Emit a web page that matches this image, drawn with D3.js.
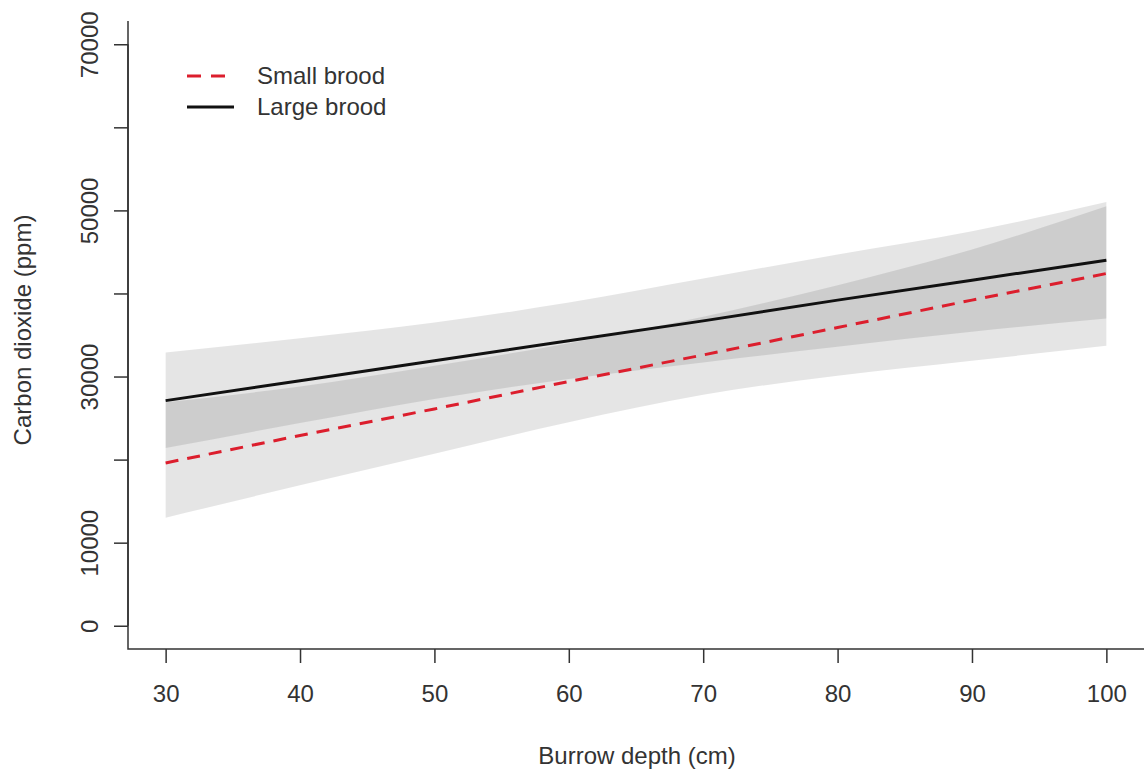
<!DOCTYPE html>
<html>
<head>
<meta charset="utf-8">
<script src="https://cdn.jsdelivr.net/npm/d3@7"></script>
<style>
  body { margin: 0; background: #fff; }
  svg text { font-family: "Liberation Sans", Arial, Helvetica, sans-serif; fill: #333; }
</style>
</head>
<body>
<div id="chart"></div>
<script>
// burrow depth (cm) at which the fitted values were read
const depth = [30, 40, 50, 60, 70, 80, 90, 100];

// fitted CO2 (ppm) per brood size
const largeFit   = [27100, 29500, 31900, 34300, 36700, 39200, 41600, 44000];
const largeUpper = [32900, 34600, 36500, 38900, 41800, 44700, 47500, 51000];
const largeLower = [21400, 24400, 27300, 29700, 31700, 33600, 35400, 37000];

const smallFit   = [19600, 22900, 26100, 29400, 32600, 35900, 39200, 42400];
const smallUpper = [26900, 28800, 31300, 34000, 37200, 41000, 45300, 50500];
const smallLower = [13000, 16900, 20700, 24500, 27800, 30100, 31900, 33700];

const xTicks = [30, 40, 50, 60, 70, 80, 90, 100];
const yTicks = [0, 10000, 20000, 30000, 40000, 50000, 60000, 70000];
const yTickLabels = ["0", "10000", "", "30000", "", "50000", "", "70000"];

const legendLabels = ["Small brood", "Large brood"];

const width = 1144, height = 778;
const fontSize = 24;

const svg = d3.select("#chart").append("svg")
    .attr("width", width)
    .attr("height", height);

// R style 4% padding on both ranges
const x = d3.scaleLinear().domain([27.2, 102.8]).range([128, 1144]);
const y = d3.scaleLinear().domain([-2800, 72800]).range([649, 21]);

function band(upper, lower) {
    return d3.area()
        .x((d, i) => x(depth[i]))
        .y0((d, i) => y(lower[i]))
        .y1((d, i) => y(upper[i]))
        .curve(d3.curveMonotoneX)(depth);
}

function fitLine(vals) {
    return d3.line()
        .x((d, i) => x(depth[i]))
        .y((d, i) => y(vals[i]))(depth);
}

// confidence bands, semi transparent so the overlap is darker
svg.append("path").attr("d", band(smallUpper, smallLower))
    .attr("fill", "#000").attr("fill-opacity", 0.1);
svg.append("path").attr("d", band(largeUpper, largeLower))
    .attr("fill", "#000").attr("fill-opacity", 0.1);

svg.append("path").attr("d", fitLine(largeFit))
    .attr("fill", "none").attr("stroke", "#111").attr("stroke-width", 3);
svg.append("path").attr("d", fitLine(smallFit))
    .attr("fill", "none").attr("stroke", "#dc1e2d").attr("stroke-width", 3)
    .attr("stroke-dasharray", "13,9");

// box (left + bottom)
svg.append("path")
    .attr("d", `M${x.range()[0]},${y.range()[1]}V${y.range()[0]}H${x.range()[1]}`)
    .attr("fill", "none").attr("stroke", "#333").attr("stroke-width", 1.5);

// x axis
const xAxis = svg.append("g")
    .attr("transform", `translate(0,${y.range()[0]})`)
    .call(d3.axisBottom(x).tickValues(xTicks).tickSize(14).tickPadding(0).tickFormat(d3.format("d")));
xAxis.select(".domain").remove();
xAxis.selectAll(".tick line").attr("stroke", "#333").attr("stroke-width", 1.5);
xAxis.selectAll(".tick text")
    .attr("y", 53).attr("dy", null)
    .style("font-size", fontSize + "px");

// y axis, labels rotated like R's las = 0
const yAxis = svg.append("g")
    .attr("transform", `translate(${x.range()[0]},0)`)
    .call(d3.axisLeft(y).tickValues(yTicks).tickSize(14)
        .tickFormat((d, i) => yTickLabels[i]));
yAxis.select(".domain")
    .attr("d", `M0,${y(yTicks[0])}V${y(yTicks[yTicks.length - 1])}`)
    .attr("stroke", "#333").attr("stroke-width", 1.5);
yAxis.selectAll(".tick line").attr("stroke", "#333").attr("stroke-width", 1.5);
yAxis.selectAll(".tick text")
    .attr("x", null).attr("dy", null)
    .attr("text-anchor", "middle")
    .attr("transform", "translate(-30,0) rotate(-90)")
    .style("font-size", fontSize + "px");

// axis titles
svg.append("text")
    .attr("x", 637).attr("y", 764)
    .attr("text-anchor", "middle")
    .style("font-size", fontSize + "px")
    .text("Burrow depth (cm)");

svg.append("text")
    .attr("transform", "translate(31,330) rotate(-90)")
    .attr("text-anchor", "middle")
    .style("font-size", fontSize + "px")
    .text("Carbon dioxide (ppm)");

// legend
const legendStyles = [
    { color: "#dc1e2d", dash: "14,10", len: 42 },
    { color: "#111", dash: null, len: 47 }
];
const legend = svg.append("g").attr("transform", "translate(187,76)");
legendLabels.forEach((label, i) => {
    const row = legend.append("g").attr("transform", `translate(0,${i * 31})`);
    row.append("line")
        .attr("x1", 0).attr("x2", legendStyles[i].len)
        .attr("stroke", legendStyles[i].color).attr("stroke-width", 3)
        .attr("stroke-dasharray", legendStyles[i].dash);
    row.append("text")
        .attr("x", 70).attr("dy", "0.35em")
        .style("font-size", fontSize + "px")
        .text(label);
});
</script>
</body>
</html>
